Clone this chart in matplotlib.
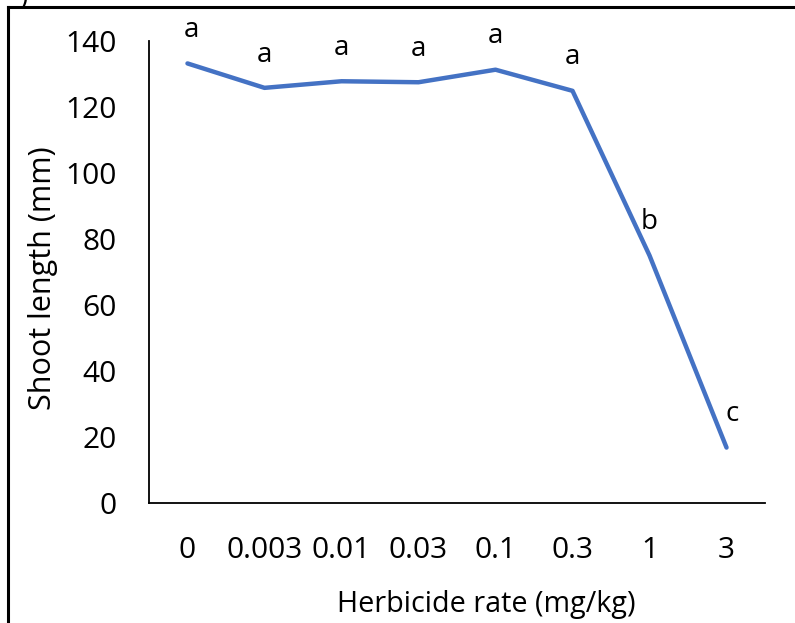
import matplotlib.pyplot as plt
from matplotlib.lines import Line2D

# shoot length at each herbicide rate, with letters from the means comparison
rates = ['0', '0.003', '0.01', '0.03', '0.1', '0.3', '1', '3']
shoot_length = [133.2, 125.8, 127.8, 127.5, 131.3, 124.9, 75.0, 16.8]
letters = ['a', 'a', 'a', 'a', 'a', 'a', 'b', 'c']

plt.rcParams['font.family'] = ['Open Sans', 'DejaVu Sans']
plt.rcParams['font.size'] = 21.5

fig = plt.figure(figsize=(7.95, 6.23), dpi=100)
ax = fig.add_axes([0.1874, 0.1926, 0.7749, 0.7416])

x = [i + 0.5 for i in range(len(rates))]
ax.plot(x, shoot_length, color='#4472C4', linewidth=3.2, solid_capstyle='round',
        solid_joinstyle='round')

for i, (xi, yi, lab) in enumerate(zip(x, shoot_length, letters)):
    dx = 3 if i == 0 else (4 if i == len(x) - 1 else 0)
    ax.annotate(lab, (xi, yi), xytext=(dx, 24), textcoords='offset points',
                ha='center', va='center', fontsize=20)

ax.set_xlim(0, len(rates))
ax.set_ylim(0, 140)
ax.set_yticks(range(0, 141, 20))
ax.set_xticks(x)
ax.set_xticklabels(rates)
ax.tick_params(length=0)
ax.tick_params(axis='y', pad=23)
ax.tick_params(axis='x', pad=24)
for side in ['top', 'right']:
    ax.spines[side].set_visible(False)
for side in ['left', 'bottom']:
    ax.spines[side].set_linewidth(1.3)
    ax.spines[side].set_color('black')

fig.text(0.054, 0.554, 'Shoot length (mm)', rotation=90, ha='center', va='center', fontsize=22)
fig.text(0.612, 0.029, 'Herbicide rate (mg/kg)', ha='center', va='center', fontsize=20.7)

# frame lines along the top and left edges, plus the cut-off panel tag
fig.add_artist(Line2D([0.0101, 1.0], [0.9888, 0.9888], color='black', linewidth=2.2,
                      transform=fig.transFigure))
fig.add_artist(Line2D([0.0101, 0.0101], [0.0, 0.9888], color='black', linewidth=2.2,
                      transform=fig.transFigure))
fig.text(0.029, 1.003, ')', ha='center', va='center', fontsize=20)

fig.savefig('out.png', dpi=100)
